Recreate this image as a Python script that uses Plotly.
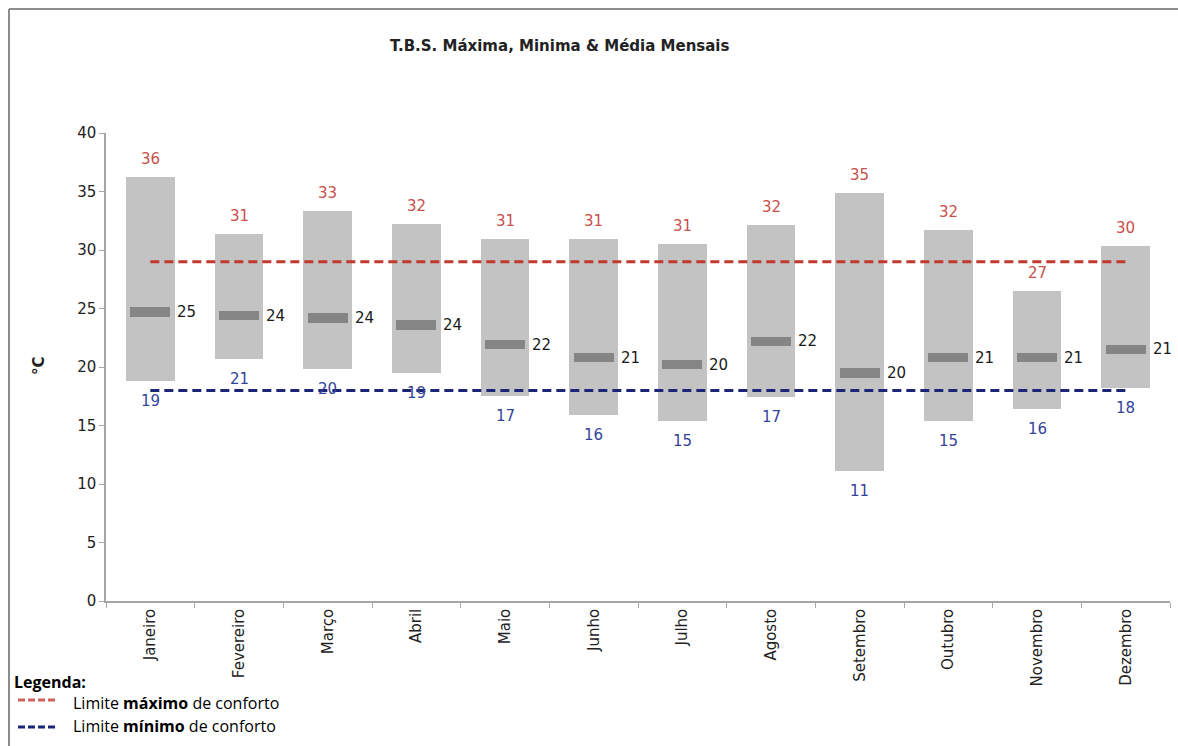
import plotly.graph_objects as go

months = ["Janeiro", "Fevereiro", "Março", "Abril", "Maio", "Junho",
          "Julho", "Agosto", "Setembro", "Outubro", "Novembro", "Dezembro"]
t_max = [36.2, 31.4, 33.3, 32.2, 30.9, 30.9, 30.5, 32.1, 34.9, 31.7, 26.5, 30.3]
t_min = [18.8, 20.7, 19.8, 19.5, 17.5, 15.9, 15.4, 17.4, 11.1, 15.4, 16.4, 18.2]
t_mean = [24.7, 24.4, 24.2, 23.6, 21.9, 20.8, 20.2, 22.2, 19.5, 20.8, 20.8, 21.5]
max_labels = ["36", "31", "33", "32", "31", "31", "31", "32", "35", "32", "27", "30"]
min_labels = ["19", "21", "20", "19", "17", "16", "15", "17", "11", "15", "16", "18"]
mean_labels = ["25", "24", "24", "24", "22", "21", "20", "22", "20", "21", "21", "21"]
limite_max = 29
limite_min = 18
y_ticks = [0, 5, 10, 15, 20, 25, 30, 35, 40]

W, H = 1178, 746
L, R, T, B = 106, 8, 133, 145
PW, PH = W - L - R, H - T - B


def px(x):
    return (x - L) / PW


def py(y):
    return (H - B - y) / PH


FONT = "DejaVu Sans"
RED_LINE = "#C0392F"
BLUE_LINE = "#1B2577"
RED_TXT = "#C9504A"
BLUE_TXT = "#34449A"

fig = go.Figure()

fig.add_trace(go.Bar(
    x=months, y=[a - b for a, b in zip(t_max, t_min)], base=t_min,
    width=0.55, marker=dict(color="#C3C3C3", line=dict(width=0)),
    hoverinfo="skip", showlegend=False))

fig.add_trace(go.Bar(
    x=months, y=[0.8] * len(months), base=[m - 0.4 for m in t_mean],
    width=0.45, marker=dict(color="#858585", line=dict(width=0)),
    hoverinfo="skip", showlegend=False))

fig.add_trace(go.Scatter(
    x=[months[0], months[-1]], y=[limite_max, limite_max], mode="lines",
    line=dict(color=RED_LINE, width=3, dash="9px,5px"),
    hoverinfo="skip", showlegend=False))
fig.add_trace(go.Scatter(
    x=[months[0], months[-1]], y=[limite_min, limite_min], mode="lines",
    line=dict(color=BLUE_LINE, width=3, dash="9px,5px"),
    hoverinfo="skip", showlegend=False))

ann = []
for m, hi, lo, me, hl, ll, ml in zip(months, t_max, t_min, t_mean,
                                     max_labels, min_labels, mean_labels):
    ann.append(dict(x=m, y=hi, text=hl, showarrow=False, yanchor="bottom",
                    yshift=7, font=dict(family=FONT, size=15, color=RED_TXT)))
    ann.append(dict(x=m, y=lo, text=ll, showarrow=False, yanchor="top",
                    yshift=-9, font=dict(family=FONT, size=15, color=BLUE_TXT)))
    ann.append(dict(x=m, y=me, text=ml, showarrow=False, xanchor="left",
                    xshift=25, font=dict(family=FONT, size=15, color="#1a1a1a")))

# title
ann.append(dict(x=px(560), y=py(46), xref="paper", yref="paper",
                text="<b>T.B.S. Máxima, Minima & Média Mensais</b>",
                showarrow=False, xanchor="center", yanchor="middle",
                font=dict(family=FONT, size=15, color="#222222")))
# y title
ann.append(dict(x=px(39), y=py(366), xref="paper", yref="paper",
                text="<b>°C</b>", textangle=-90, showarrow=False,
                xanchor="center", yanchor="middle",
                font=dict(family=FONT, size=15, color="#222222")))
# legend
LFONT = "Open Sans"
ann.append(dict(x=px(12), y=py(682), xref="paper", yref="paper",
                text="<b>Legenda:</b>", showarrow=False, xanchor="left",
                yanchor="middle", font=dict(family=LFONT, size=16, color="#000000")))
ann.append(dict(x=px(71), y=py(703), xref="paper", yref="paper",
                text="Limite <b>máximo</b> de conforto", showarrow=False,
                xanchor="left", yanchor="middle",
                font=dict(family=LFONT, size=16, color="#000000")))
ann.append(dict(x=px(71), y=py(726), xref="paper", yref="paper",
                text="Limite <b>mínimo</b> de conforto", showarrow=False,
                xanchor="left", yanchor="middle",
                font=dict(family=LFONT, size=16, color="#000000")))

shapes = [
    dict(type="line", xref="paper", yref="paper", x0=px(18), x1=px(57),
         y0=py(700), y1=py(700), line=dict(color="#D0625C", width=3, dash="7px,3px")),
    dict(type="line", xref="paper", yref="paper", x0=px(18), x1=px(57),
         y0=py(727), y1=py(727), line=dict(color=BLUE_LINE, width=3, dash="7px,3px")),
    # outer frame (top and left visible)
    dict(type="line", xref="paper", yref="paper", x0=px(9), x1=px(1180),
         y0=py(9), y1=py(9), line=dict(color="#8C8C8C", width=2)),
    dict(type="line", xref="paper", yref="paper", x0=px(9), x1=px(9),
         y0=py(9), y1=py(748), line=dict(color="#8C8C8C", width=2)),
]

fig.update_layout(
    width=W, height=H,
    margin=dict(l=L, r=R, t=T, b=B),
    paper_bgcolor="white", plot_bgcolor="white",
    barmode="overlay", bargap=0,
    annotations=ann, shapes=shapes,
    showlegend=False,
)
fig.update_xaxes(
    type="category", categoryorder="array", categoryarray=months,
    range=[-0.5, len(months) - 0.5],
    showline=True, linecolor="#A6A6A6", linewidth=1.5,
    ticks="outside", tickson="boundaries", ticklen=5, tickcolor="#A6A6A6",
    tickangle=-90, tickfont=dict(family=FONT, size=15, color="#222222"),
    showgrid=False, zeroline=False,
)
fig.update_yaxes(
    range=[0, 40], tickvals=y_ticks, ticktext=[str(v) for v in y_ticks],
    showline=True, linecolor="#A6A6A6", linewidth=1.5,
    ticks="outside", ticklen=5, tickcolor="#A6A6A6",
    tickfont=dict(family=FONT, size=15, color="#222222"),
    showgrid=False, zeroline=False,
)

fig.write_html("out.html")
